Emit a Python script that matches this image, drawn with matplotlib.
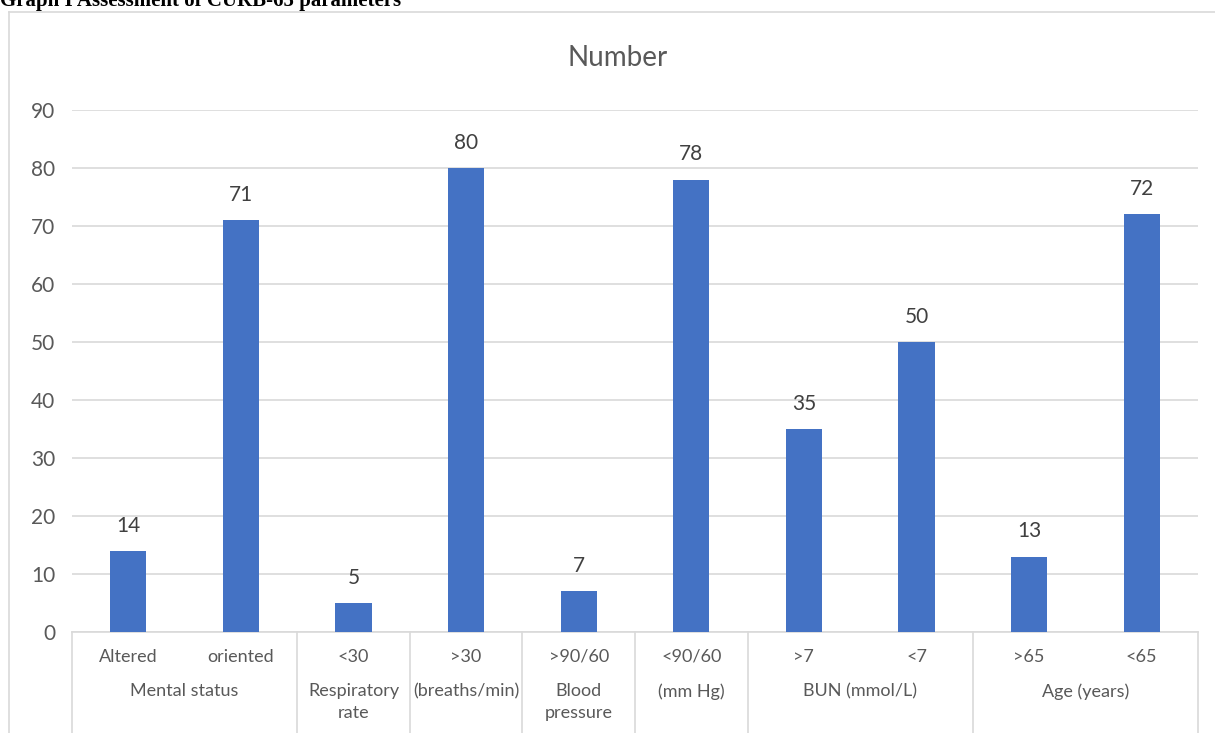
import matplotlib
matplotlib.use("Agg")
import matplotlib.pyplot as plt
from matplotlib.lines import Line2D
import matplotlib.transforms as mtransforms

categories = ["Altered", "oriented", "<30", ">30", ">90/60", "<90/60", ">7", "<7", ">65", "<65"]
values = [14, 71, 5, 80, 7, 78, 35, 50, 13, 72]
groups = ["Mental status", "Respiratory\nrate", "(breaths/min)", "Blood\npressure", "(mm Hg)", "BUN (mmol/L)", "Age (years)"]
group_sizes = [2, 1, 1, 1, 1, 2, 2]
yticks = [0, 10, 20, 30, 40, 50, 60, 70, 80, 90]

FONT = "Lato"
TXT = "#595959"
GRID = "#D9D9D9"
BLUE = "#4472C4"

W, H = 1215, 733
fig = plt.figure(figsize=(W / 100, H / 100), dpi=100)

def fx(px):
    return px / W

def fy(py):
    return 1 - py / H

# outer chart frame
fig.add_artist(Line2D([fx(9), fx(9)], [fy(12), fy(740)], color=GRID, lw=1.2))
fig.add_artist(Line2D([fx(9), fx(1220)], [fy(12), fy(12)], color=GRID, lw=1.2))

# document caption (partially cut off at top, as in the source)
fig.text(fx(0), fy(6), "Graph I Assessment of CURB-65 parameters", family="Liberation Serif",
         fontweight="bold", fontsize=15, ha="left", va="baseline", color="black")

left, right = 72, 1198
top, bottom = 110, 632
ax = fig.add_axes([fx(left), fy(bottom), fx(right - left), (bottom - top) / H])

x = list(range(len(categories)))
ax.bar(x, values, width=0.32, color=BLUE, zorder=3)
ax.set_xlim(-0.5, len(categories) - 0.5)
ax.set_ylim(0, 90)
ax.set_yticks(yticks)
ax.set_yticklabels([str(t) for t in yticks], family=FONT, fontsize=15, color=TXT)
ax.tick_params(axis="y", length=0, pad=12)
ax.tick_params(axis="x", length=0)
ax.set_xticks([])
ax.yaxis.grid(True, color=GRID, lw=1.2, zorder=0)
for s in ["top", "right", "left"]:
    ax.spines[s].set_visible(False)
ax.spines["bottom"].set_color(GRID)
ax.spines["bottom"].set_linewidth(1.2)

for xi, v in zip(x, values):
    ax.annotate(str(v), (xi, v), xytext=(0, 11), textcoords="offset points",
                ha="center", va="bottom", family=FONT, fontsize=15, color="#404040")

trans = mtransforms.blended_transform_factory(ax.transData, ax.transAxes)
ah = bottom - top

# category labels (first level)
for xi, c in zip(x, categories):
    ax.text(xi, -(657 - bottom) / ah, c, transform=trans, ha="center", va="center",
            family=FONT, fontsize=13, color=TXT)

# group labels and separators
pos = -0.5
bounds = [pos]
for g, n in zip(groups, group_sizes):
    center = pos + n / 2
    ax.text(center, -(683 - bottom) / ah, g, transform=trans, ha="center", va="top",
            family=FONT, fontsize=13, color=TXT, linespacing=1.45)
    pos += n
    bounds.append(pos)
for b in bounds:
    ax.plot([b, b], [0, -0.3], transform=trans, color=GRID, lw=1.2, clip_on=False)

fig.text(fx(618), fy(58), "Number", family=FONT, fontsize=20, color=TXT, ha="center", va="center")

fig.savefig("out.png", dpi=100)
